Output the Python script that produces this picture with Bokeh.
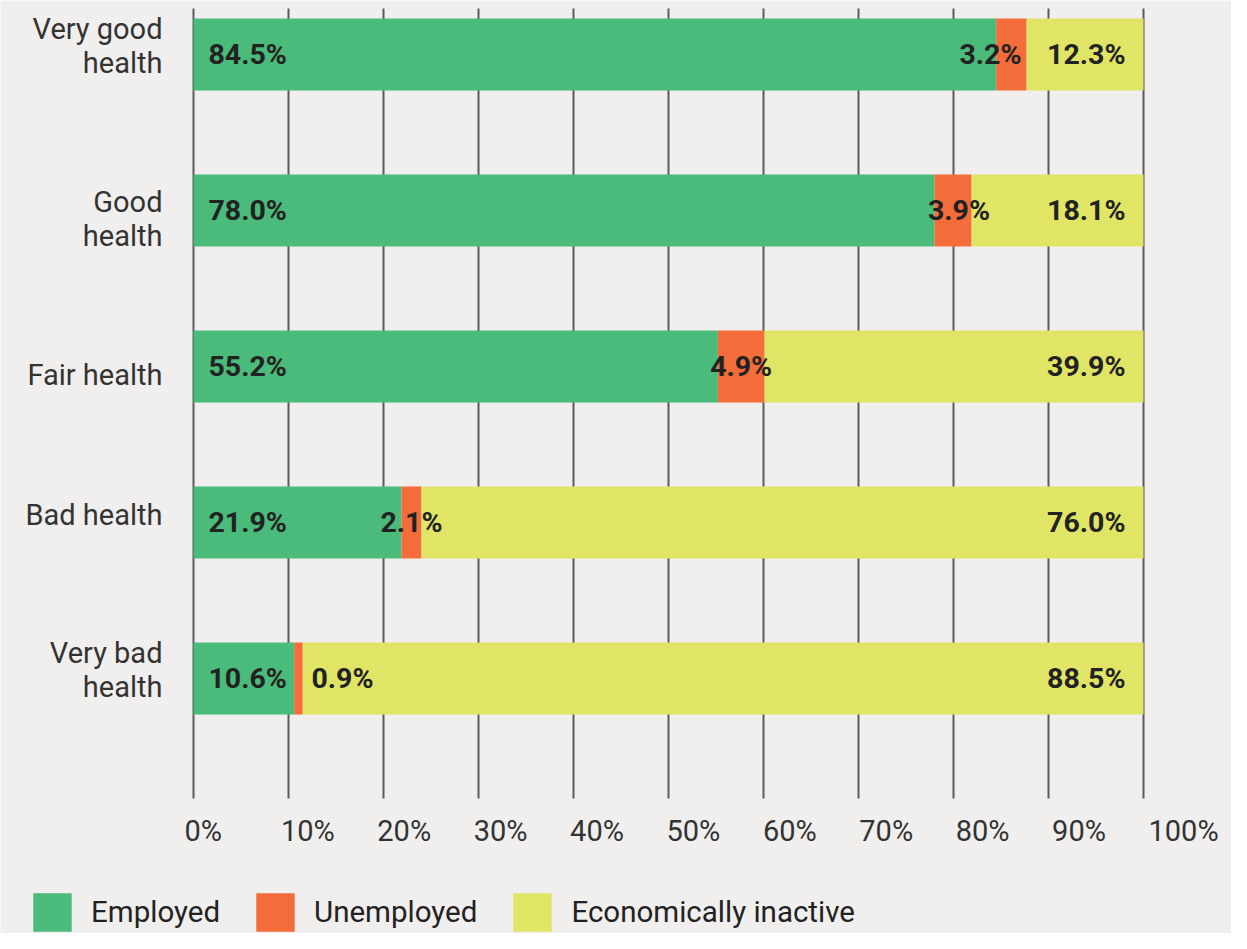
from bokeh.plotting import figure
from bokeh.models import Range1d, Legend, LegendItem
from bokeh.core.properties import value
from bokeh.embed import file_html
from bokeh.resources import INLINE

# ---------------- data ----------------
categories = ["Very good health", "Good health", "Fair health", "Bad health", "Very bad health"]
category_labels = ["Very good\nhealth", "Good\nhealth", "Fair health", "Bad health", "Very bad\nhealth"]
employed = [84.5, 78.0, 55.2, 21.9, 10.6]
unemployed = [3.2, 3.9, 4.9, 2.1, 0.9]
inactive = [12.3, 18.1, 39.9, 76.0, 88.5]
series_names = ["Employed", "Unemployed", "Economically inactive"]
x_ticks = [0, 10, 20, 30, 40, 50, 60, 70, 80, 90, 100]
x_tick_labels = ["0%", "10%", "20%", "30%", "40%", "50%", "60%", "70%", "80%", "90%", "100%"]

# ---------------- style / layout ----------------
BG = "#f0efed"
GREEN = "#4abb7a"
ORANGE = "#f36c3a"
YELLOW = "#e1e566"
GRID = "#5c5c5c"
TXT = "#222222"
CAT_TXT = "#333333"
FONT = value("Roboto")

W, H = 1231, 933
PX = 9.5          # pixels per percentage point
X0 = 193          # canvas x of 0%
ROW = 156         # pixels between rows
Y0 = 54           # canvas y of first row centre
BAR_H = 72 / ROW
GRID_TOP = (8 - Y0) / ROW
GRID_BOTTOM = (798 - Y0) / ROW
TICK_LABEL_Y = (830 - Y0) / ROW
unemp_nudge = [-21, 6, 0, 0, 44]     # px shifts of unemployed labels (avoid overlaps)
cat_nudge = [9, -8, -8, 8, 9]        # px vertical shifts of category labels (up = +)

ys = list(range(len(categories)))

p = figure(width=W, height=H, output_backend="svg", toolbar_location=None,
           x_range=Range1d(-X0 / PX, (W - X0) / PX),
           y_range=Range1d((H - Y0) / ROW, -Y0 / ROW),
           x_axis_type=None, y_axis_type=None,
           min_border=0, min_border_left=0, min_border_right=0,
           min_border_top=0, min_border_bottom=0)
p.background_fill_color = BG
p.border_fill_color = BG
p.outline_line_color = None
p.extra_x_ranges = {"ticklabels": Range1d(-184 / 9.64, (W - 184) / 9.64)}

# vertical grid lines
p.segment(x0=x_ticks, x1=x_ticks, y0=GRID_TOP, y1=GRID_BOTTOM,
          line_color=GRID, line_width=2)

# stacked bars
emp_end = employed
unemp_end = [e + u for e, u in zip(employed, unemployed)]
inact_end = [a + b for a, b in zip(unemp_end, inactive)]
r1 = p.hbar(y=ys, left=0, right=emp_end, height=BAR_H, fill_color=GREEN, line_color=None)
r2 = p.hbar(y=ys, left=emp_end, right=unemp_end, height=BAR_H, fill_color=ORANGE, line_color=None)
r3 = p.hbar(y=ys, left=unemp_end, right=inact_end, height=BAR_H, fill_color=YELLOW, line_color=None)

lbl = dict(text_font=FONT, text_font_style="bold", text_font_size="28.5px",
           text_color=TXT, text_baseline="middle")
p.text(x=[0] * len(ys), y=ys, text=[f"{v:.1f}%" for v in employed],
       x_offset=15, text_align="left", **lbl)
p.text(x=[e + u / 2 for e, u in zip(employed, unemployed)], y=ys,
       text=[f"{v:.1f}%" for v in unemployed], x_offset=unemp_nudge,
       text_align="center", **lbl)
p.text(x=inact_end, y=ys, text=[f"{v:.1f}%" for v in inactive],
       x_offset=-18, text_align="right", **lbl)

# category labels
p.text(x=[0] * len(ys), y=ys, text=category_labels, x_offset=-31,
       y_offset=[-n for n in cat_nudge],
       text_align="right", text_baseline="middle", text_font=FONT,
       text_font_size="29px", text_color=CAT_TXT, text_line_height=1.0)

# x tick labels
p.text(x=x_ticks, y=[TICK_LABEL_Y] * len(x_ticks), text=x_tick_labels,
       x_range_name="ticklabels", text_align="left", text_baseline="middle",
       text_font=FONT, text_font_size="29px", text_color=CAT_TXT)

legend = Legend(items=[LegendItem(label=n, renderers=[r]) for n, r in zip(series_names, [r1, r2, r3])],
                orientation="horizontal", location=(28, -3),
                glyph_width=48, glyph_height=48, label_standoff=15, spacing=31,
                padding=0, margin=0, border_line_color=None,
                background_fill_alpha=0, label_text_font="Roboto",
                label_text_font_size="29.5px", label_text_color=TXT,
                label_text_baseline="middle")
p.add_layout(legend)

open("out.html", "w").write(file_html(p, INLINE))
